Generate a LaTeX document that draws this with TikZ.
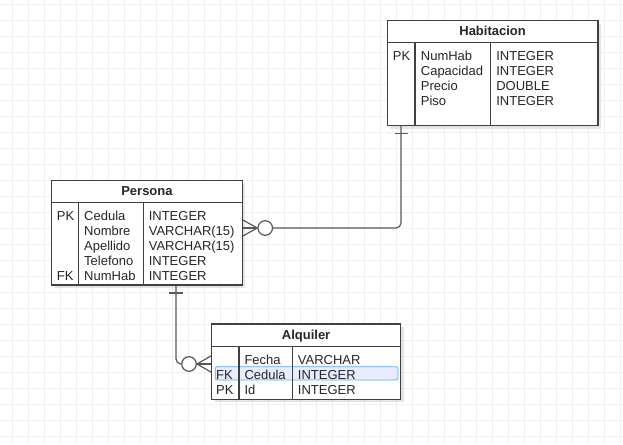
\documentclass[tikz,border=0pt]{standalone}
\usepackage{fontspec}
\setmainfont{Liberation Sans}
\usetikzlibrary{positioning,shadows}

\begin{document}
\begin{tikzpicture}[x=1pt,y=-1pt,
    grid line/.style={draw=black!6,line width=0.8pt},
    tablebox/.style={draw=black!75,line width=1.2pt,fill=white,inner sep=0pt,anchor=north west,
        drop shadow={shadow xshift=3pt,shadow yshift=-3pt,fill=black,opacity=0.1}},
    tableline/.style={draw=black!75,line width=1.2pt},
    cell/.style={font=\fontsize{13}{15}\selectfont,text=black!85,anchor=base west,inner sep=0pt},
    title/.style={font=\fontsize{13}{15}\selectfont\bfseries,text=black!85,anchor=base,inner sep=0pt},
    rel/.style={draw=black!65,line width=1.2pt},
    ocircle/.style={circle,draw=black!65,line width=1.2pt,fill=white,minimum size=14.6pt,inner sep=0pt},
    picked/.style={draw=blue!45!cyan!70!white,fill=blue!8,line width=0.8pt,rounded corners=2pt},
  ]
    \useasboundingbox (0,0) rectangle (623,444);
    % grid
    \foreach \gx in {12,28,...,620} \draw[grid line] (\gx,0) -- (\gx,444);
    \foreach \gy in {4,20,...,440} \draw[grid line] (0,\gy) -- (623,\gy);

    % Habitacion
    \node[tablebox,minimum width=210.6pt,minimum height=105pt] (hab) at (386.7,20) {};
    \draw[tableline] ([yshift=-22.7pt]hab.north west) -- ([yshift=-22.7pt]hab.north east);
    \draw[tableline] ([xshift=28.3pt,yshift=-22.7pt]hab.north west) -- ([xshift=28.3pt]hab.south west);
    \draw[tableline] ([xshift=104pt,yshift=-22.7pt]hab.north west) -- ([xshift=104pt]hab.south west);
    \node[title] (hab-title) at ([yshift=-15.8pt]hab.north) {Habitacion};
    \foreach \k/\n/\t [count=\i] in {PK/NumHab/INTEGER, /Capacidad/INTEGER, /Precio/DOUBLE, /Piso/INTEGER}{
        \node[cell] (hab-key-\i) at ([xshift=6pt,yshift={-40.3pt-15pt*(\i-1)}]hab.north west) {\k};
        \node[cell] (hab-name-\i) at ([xshift=34pt,yshift={-40.3pt-15pt*(\i-1)}]hab.north west) {\n};
        \node[cell] (hab-type-\i) at ([xshift=109.4pt,yshift={-40.3pt-15pt*(\i-1)}]hab.north west) {\t};
    }

    % Persona
    \node[tablebox,minimum width=190.7pt,minimum height=104.3pt] (per) at (51,180) {};
    \draw[tableline] ([yshift=-22.7pt]per.north west) -- ([yshift=-22.7pt]per.north east);
    \draw[tableline] ([xshift=27.3pt,yshift=-22.7pt]per.north west) -- ([xshift=27.3pt]per.south west);
    \draw[tableline] ([xshift=92.3pt,yshift=-22.7pt]per.north west) -- ([xshift=92.3pt]per.south west);
    \node[title] (per-title) at ([yshift=-15.8pt]per.north) {Persona};
    \foreach \k/\n/\t [count=\i] in {PK/Cedula/INTEGER, /Nombre/VARCHAR(15), /Apellido/VARCHAR(15), /Telefono/INTEGER, FK/NumHab/INTEGER}{
        \node[cell] (per-key-\i) at ([xshift=5.7pt,yshift={-40.3pt-15pt*(\i-1)}]per.north west) {\k};
        \node[cell] (per-name-\i) at ([xshift=33pt,yshift={-40.3pt-15pt*(\i-1)}]per.north west) {\n};
        \node[cell] (per-type-\i) at ([xshift=97.6pt,yshift={-40.3pt-15pt*(\i-1)}]per.north west) {\t};
    }

    % Alquiler
    \node[tablebox,minimum width=189pt,minimum height=75.3pt] (alq) at (211,323.3) {};
    \draw[picked] ([xshift=4.3pt,yshift=-43.4pt]alq.north west) rectangle ([xshift=-3.3pt,yshift=-56.7pt]alq.north east);
    \draw[tableline] ([yshift=-23.4pt]alq.north west) -- ([yshift=-23.4pt]alq.north east);
    \draw[tableline] ([xshift=28pt,yshift=-23.4pt]alq.north west) -- ([xshift=28pt]alq.south west);
    \draw[tableline] ([xshift=81.7pt,yshift=-23.4pt]alq.north west) -- ([xshift=81.7pt]alq.south west);
    \node[title] (alq-title) at ([yshift=-16pt]alq.north) {Alquiler};
    \foreach \k/\n/\t [count=\i] in {/Fecha/VARCHAR, FK/Cedula/INTEGER, PK/Id/INTEGER}{
        \node[cell] (alq-key-\i) at ([xshift=5pt,yshift={-40.8pt-15pt*(\i-1)}]alq.north west) {\k};
        \node[cell] (alq-name-\i) at ([xshift=33.3pt,yshift={-40.8pt-15pt*(\i-1)}]alq.north west) {\n};
        \node[cell] (alq-type-\i) at ([xshift=86.7pt,yshift={-40.8pt-15pt*(\i-1)}]alq.north west) {\t};
    }

    % Habitacion -- Persona
    \coordinate (hab-fk) at ([xshift=14.3pt]hab.south west);
    \coordinate (per-crow) at ([yshift=-48pt]per.north east);
    \node[ocircle] (per-zero) at ([xshift=22.3pt]per-crow) {};
    \draw[rel,rounded corners=5pt] (hab-fk) |- (per-zero.east);
    \draw[rel] ([xshift=-6.5pt,yshift=-7pt]hab-fk) -- ([xshift=6.5pt,yshift=-7pt]hab-fk);
    \draw[rel] (per-zero.west) -- (per-crow);
    \draw[rel] (per-zero.west) -- ([yshift=8pt]per-crow);
    \draw[rel] (per-zero.west) -- ([yshift=-8pt]per-crow);

    % Persona -- Alquiler
    \coordinate (per-pk) at ([xshift=125pt]per.south west);
    \coordinate (alq-crow) at ([yshift=-40.7pt]alq.north west);
    \node[ocircle] (alq-zero) at ([xshift=-22pt]alq-crow) {};
    \draw[rel,rounded corners=5pt] (per-pk) |- (alq-zero.west);
    \draw[rel] ([xshift=-6.8pt,yshift=-7.4pt]per-pk) -- ([xshift=6.8pt,yshift=-7.4pt]per-pk);
    \draw[rel] (alq-zero.east) -- (alq-crow);
    \draw[rel] (alq-zero.east) -- ([yshift=8pt]alq-crow);
    \draw[rel] (alq-zero.east) -- ([yshift=-8pt]alq-crow);
\end{tikzpicture}
\end{document}
